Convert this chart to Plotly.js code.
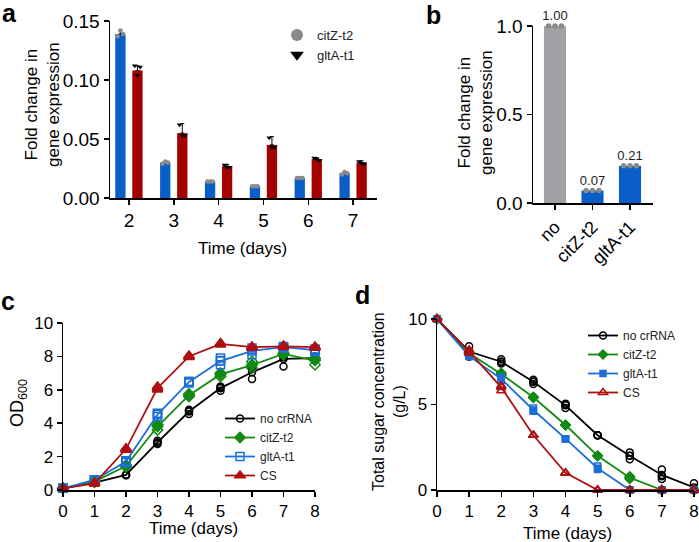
<!DOCTYPE html>
<html>
<head>
<meta charset="utf-8">
<script src="https://cdn.plot.ly/plotly-3.0.1.min.js"></script>
<style>
  html, body { margin: 0; padding: 0; background: #fff; }
  #fig { width: 699px; height: 542px; }
</style>
</head>
<body>
<div id="fig"></div>
<script>
// ---- panel a : qPCR time course ----
const qDays = [2, 3, 4, 5, 6, 7];
const citZFold = [0.139, 0.030, 0.014, 0.010, 0.017, 0.021];
const citZErr = [0.003, 0.001, 0.0005, 0.0005, 0.0005, 0.001];
const citZReps = [[0.137, 0.142, 0.139], [0.029, 0.031, 0.030], [0.014, 0.014, 0.014],
                  [0.010, 0.010, 0.010], [0.017, 0.017, 0.017], [0.020, 0.022, 0.021]];
const gltAFold = [0.108, 0.055, 0.027, 0.045, 0.033, 0.030];
const gltAErr = [0.004, 0.008, 0.0015, 0.007, 0.001, 0.0015];
const gltAReps = [[0.112, 0.104, 0.111], [0.062, 0.053, 0.053], [0.028, 0.026, 0.026],
                  [0.051, 0.043, 0.043], [0.034, 0.033, 0.032], [0.031, 0.029, 0.029]];

// ---- panel b : fold change per strain ----
const strains = ['no', 'citZ-t2', 'gltA-t1'];
const strainFold = [1.00, 0.07, 0.21];
const strainReps = [[1.0, 1.0, 1.0], [0.07, 0.07, 0.07], [0.21, 0.21, 0.21]];

// ---- panels c, d : growth and sugar ----
const days = [0, 1, 2, 3, 4, 5, 6, 7, 8];
const seriesNames = ['no crRNA', 'citZ-t2', 'gltA-t1', 'CS'];

const odNo   = [0.1, 0.44, 0.9, 2.85, 4.7, 6.1, 7.05, 7.85, 7.9];
const odCitZ = [0.1, 0.5, 1.43, 3.8, 5.68, 6.92, 7.48, 8.15, 7.75];
const odGltA = [0.1, 0.6, 1.7, 4.52, 6.47, 7.72, 8.33, 8.55, 8.38];
const odCS   = [0.1, 0.4, 2.45, 6.1, 8.0, 8.75, 8.55, 8.6, 8.55];
const odNoReps   = [[0.1,0.1,0.1],[0.42,0.45,0.46],[0.88,0.92,0.9],[2.75,2.95,2.85],[4.55,4.8,4.75],
                    [5.95,6.2,6.15],[6.65,7.25,7.3],[7.4,7.95,8.1],[7.75,7.95,8.0]];
const odCitZReps = [[0.1,0.1,0.1],[0.48,0.5,0.52],[1.4,1.5,1.4],[3.6,3.9,3.9],[5.6,5.75,5.7],
                    [6.8,7.0,6.95],[7.3,7.5,7.7],[8.1,8.2,8.15],[7.5,7.9,7.85]];
const odGltAReps = [[0.1,0.1,0.1],[0.58,0.6,0.62],[1.65,1.7,1.75],[4.4,4.6,4.55],[6.4,6.5,6.5],
                    [7.5,7.9,7.75],[8.1,8.4,8.5],[8.5,8.6,8.55],[8.3,8.45,8.4]];
const odCSReps   = [[0.1,0.1,0.1],[0.38,0.4,0.42],[2.4,2.5,2.45],[6.0,6.2,6.1],[7.95,8.05,8.0],
                    [8.7,8.8,8.75],[8.5,8.6,8.55],[8.55,8.65,8.6],[8.5,8.6,8.55]];

const sugNo   = [10, 8.1, 7.5, 6.33, 4.95, 3.2, 2.0, 0.88, 0.15];
const sugCitZ = [10, 8.0, 6.78, 5.42, 3.8, 2.0, 0.72, 0, 0];
const sugGltA = [10, 7.83, 6.5, 4.68, 3.0, 1.27, 0, 0, 0];
const sugCS   = [10, 8.1, 6.0, 3.2, 1.0, 0, 0, 0, 0];
const sugNoReps   = [[10,10,10],[8.4,7.8,8.1],[7.65,7.4,7.5],[6.45,6.2,6.35],[5.05,4.8,5.0],
                     [3.2,3.2,3.2],[2.2,1.8,2.0],[1.2,0.65,0.8],[0.4,0.05,0.0]];
const sugCitZReps = [[10,10,10],[8.0,7.95,8.05],[6.85,6.7,6.8],[5.45,5.4,5.4],[3.8,3.8,3.8],
                     [2.0,2.0,2.0],[0.8,0.65,0.72],[0,0,0],[0,0,0]];
const sugGltAReps = [[10,10,10],[7.85,7.8,7.85],[6.6,6.4,6.5],[4.8,4.6,4.65],[3.0,3.0,3.0],
                     [1.4,1.2,1.25],[0,0,0],[0,0,0],[0,0,0]];
const sugCSReps   = [[10,10,10],[8.2,8.0,8.1],[6.1,5.8,6.05],[3.2,3.2,3.2],[1.0,1.0,1.0],
                     [0,0,0],[0,0,0],[0,0,0],[0,0,0]];

// ---- look ----
const W = 699, H = 542;
const px = x => x / W;
const py = y => 1 - y / H;
const FONT = 'Liberation Sans, Arial, Helvetica, sans-serif';
const BLUE = '#0a5ec8', RED = '#a50000', GREY = '#a0a0a5';
const lineColors = ['#000000', '#138a13', '#1a6fd6', '#b00f0f'];

// flatten replicate triples into x / y lists, spread across a bar or around a day
const spreadReps = (xs, reps, shift, spread) => {
  const x = [], y = [];
  xs.forEach((d, i) => reps[i].forEach((v, k) => { x.push(d + shift + (k - 1) * spread); y.push(v); }));
  return { x, y };
};

const barW = 0.23, barShift = 0.19;
const citZPts = spreadReps(qDays, citZReps, -barShift, 0.06);
const gltAPts = spreadReps(qDays, gltAReps, barShift, 0.06);
const strainPts = spreadReps([0, 1, 2], strainReps, 0, 0.17);

const data = [
  // panel a
  {
    type: 'bar', x: qDays.map(d => d - barShift), y: citZFold, width: barW,
    marker: { color: BLUE }, showlegend: false, hoverinfo: 'skip',
    error_y: { type: 'data', symmetric: false, array: citZErr, arrayminus: citZErr.map(() => 0),
               color: '#000', thickness: 1, width: 2 },
    xaxis: 'x', yaxis: 'y'
  },
  {
    type: 'bar', x: qDays.map(d => d + barShift), y: gltAFold, width: barW,
    marker: { color: RED }, showlegend: false, hoverinfo: 'skip',
    error_y: { type: 'data', symmetric: false, array: gltAErr, arrayminus: gltAErr.map(() => 0),
               color: '#000', thickness: 1, width: 2 },
    xaxis: 'x', yaxis: 'y'
  },
  {
    type: 'scatter', mode: 'markers', name: 'citZ-t2', x: citZPts.x, y: citZPts.y,
    marker: { symbol: 'circle', size: 4.5, color: '#8a8a8a' }, cliponaxis: false,
    xaxis: 'x', yaxis: 'y', legend: 'legend'
  },
  {
    type: 'scatter', mode: 'markers', name: 'gltA-t1', x: gltAPts.x, y: gltAPts.y,
    marker: { symbol: 'triangle-down', size: 5, color: '#000' }, cliponaxis: false,
    xaxis: 'x', yaxis: 'y', legend: 'legend'
  },
  // panel b
  {
    type: 'bar', x: [0, 1, 2], y: strainFold, width: 0.59,
    marker: { color: [GREY, BLUE, BLUE] }, showlegend: false, hoverinfo: 'skip',
    texttemplate: '%{y:.2f}', textposition: 'outside', constraintext: 'none', cliponaxis: false,
    textfont: { family: FONT, size: 13, color: '#222' },
    xaxis: 'x2', yaxis: 'y2'
  },
  {
    type: 'scatter', mode: 'markers', x: strainPts.x, y: strainPts.y, showlegend: false,
    marker: { symbol: 'circle', size: 5.5, color: '#8a8a8a' }, cliponaxis: false,
    xaxis: 'x2', yaxis: 'y2'
  }
];

// panels c and d
const odMeans = [odNo, odCitZ, odGltA, odCS];
const odReps = [odNoReps, odCitZReps, odGltAReps, odCSReps];
const odSym = ['circle-open', 'diamond', 'square-open', 'triangle-up'];
const odRepSym = ['circle-open', 'diamond-open', 'square-open', 'triangle-up'];
const odSize = [7, 8, 8, 9];

const sugMeans = [sugNo, sugCitZ, sugGltA, sugCS];
const sugReps = [sugNoReps, sugCitZReps, sugGltAReps, sugCSReps];
const sugSym = ['circle-open', 'diamond', 'square', 'triangle-up-open'];
const sugRepSym = ['circle-open', 'diamond-open', 'square-open', 'triangle-up-open'];
const sugSize = [7, 7, 6, 8];

seriesNames.forEach((name, i) => {
  const r = spreadReps(days, odReps[i], 0, 0);
  data.push({
    type: 'scatter', mode: 'markers', x: r.x, y: r.y, showlegend: false, cliponaxis: false,
    marker: { symbol: odRepSym[i], size: odSize[i], color: lineColors[i], line: { width: 1.5, color: lineColors[i] } },
    xaxis: 'x3', yaxis: 'y3'
  });
  data.push({
    type: 'scatter', mode: 'lines+markers', name: name, x: days, y: odMeans[i], cliponaxis: false,
    line: { color: lineColors[i], width: 1.8 },
    marker: { symbol: odSym[i], size: odSize[i], color: lineColors[i], line: { width: 1.5, color: lineColors[i] } },
    xaxis: 'x3', yaxis: 'y3', legend: 'legend2'
  });
});

seriesNames.forEach((name, i) => {
  const r = spreadReps(days, sugReps[i], 0, 0);
  data.push({
    type: 'scatter', mode: 'markers', x: r.x, y: r.y, showlegend: false, cliponaxis: false,
    marker: { symbol: sugRepSym[i], size: sugSize[i], color: lineColors[i], line: { width: 1.5, color: lineColors[i] } },
    xaxis: 'x4', yaxis: 'y4'
  });
  data.push({
    type: 'scatter', mode: 'lines+markers', name: name, x: days, y: sugMeans[i], cliponaxis: false,
    line: { color: lineColors[i], width: 1.8 },
    marker: { symbol: sugSym[i], size: sugSize[i], color: lineColors[i], line: { width: 1.5, color: lineColors[i] } },
    xaxis: 'x4', yaxis: 'y4', legend: 'legend3'
  });
});

const tf = size => ({ family: FONT, size: size, color: '#000' });
const axisBase = {
  showgrid: false, zeroline: false, showline: true, linecolor: '#000', linewidth: 1.5,
  ticks: 'outside', ticklen: 5, tickwidth: 1.5, tickcolor: '#000',
  tickfont: tf(17), fixedrange: true, ticklabeloverflow: 'allow'
};

const ann = (text, x, y, opts) => Object.assign({
  text: text, x: px(x), y: py(y), xref: 'paper', yref: 'paper', showarrow: false,
  xanchor: 'center', yanchor: 'middle', borderpad: 0, font: tf(17)
}, opts || {});
const letter = { size: 25, color: '#000', family: FONT, weight: 'bold' };

const layout = {
  width: W, height: H,
  margin: { l: 0, r: 0, t: 0, b: 0 },
  paper_bgcolor: '#fff', plot_bgcolor: 'rgba(0,0,0,0)',
  barmode: 'overlay',
  font: { family: FONT, color: '#000' },
  xaxis: Object.assign({}, axisBase, { domain: [px(110), px(377)], range: [1.578, 7.533],
    tickvals: qDays, anchor: 'y', tickfont: tf(19) }),
  yaxis: Object.assign({}, axisBase, { domain: [py(198), py(21)], range: [0, 0.15],
    tickvals: [0, 0.05, 0.10, 0.15], tickformat: '.2f', anchor: 'x', tickfont: tf(19) }),
  xaxis2: Object.assign({}, axisBase, { domain: [px(533), px(653)], range: [-0.587, 2.613],
    tickvals: [0, 1, 2], ticktext: strains, tickangle: -45, anchor: 'y2', tickfont: tf(18) }),
  yaxis2: Object.assign({}, axisBase, { domain: [py(203), py(26)], range: [0, 1.0],
    tickvals: [0, 0.5, 1.0], tickformat: '.1f', anchor: 'x2', tickfont: tf(19) }),
  xaxis3: Object.assign({}, axisBase, { domain: [px(63), px(315)], range: [0, 8],
    tickvals: days, anchor: 'y3' }),
  yaxis3: Object.assign({}, axisBase, { domain: [py(490), py(323)], range: [0, 10],
    tickvals: [0, 2, 4, 6, 8, 10], anchor: 'x3' }),
  xaxis4: Object.assign({}, axisBase, { domain: [px(437), px(694)], range: [0, 8],
    tickvals: days, anchor: 'y4' }),
  yaxis4: Object.assign({}, axisBase, { domain: [py(490), py(319)], range: [0, 10],
    tickvals: [0, 5, 10], anchor: 'x4' }),
  legend: {
    x: px(277), y: py(20), xanchor: 'left', yanchor: 'top', bgcolor: 'rgba(0,0,0,0)',
    font: { family: FONT, size: 13, color: '#222' }, itemsizing: 'constant', tracegroupgap: 0
  },
  legend2: {
    x: px(220), y: py(404), xanchor: 'left', yanchor: 'top', bgcolor: 'rgba(0,0,0,0)',
    font: { family: FONT, size: 12, color: '#222' }, tracegroupgap: 0
  },
  legend3: {
    x: px(583), y: py(321), xanchor: 'left', yanchor: 'top', bgcolor: 'rgba(0,0,0,0)',
    font: { family: FONT, size: 12, color: '#222' }, tracegroupgap: 0
  },
  annotations: [
    ann('a', 9, 13, { font: letter }),
    ann('b', 433, 15, { font: letter }),
    ann('c', 8, 301, { font: letter }),
    ann('d', 362, 295, { font: letter }),
    ann('Fold change in<br>gene expression', 42, 105, { textangle: -90 }),
    ann('Fold change in<br>gene expression', 476, 112, { textangle: -90 }),
    ann('OD<sub>600</sub>', 18, 403, { textangle: -90, font: tf(18) }),
    ann('Total sugar concentration<br>(g/L)', 389, 402, { textangle: -90, font: tf(16) }),
    ann('Time (days)', 243, 248),
    ann('Time (days)', 193, 528),
    ann('Time (days)', 567, 533)
  ]
};

Plotly.newPlot('fig', data, layout, { displayModeBar: false, staticPlot: true });
</script>
</body>
</html>
